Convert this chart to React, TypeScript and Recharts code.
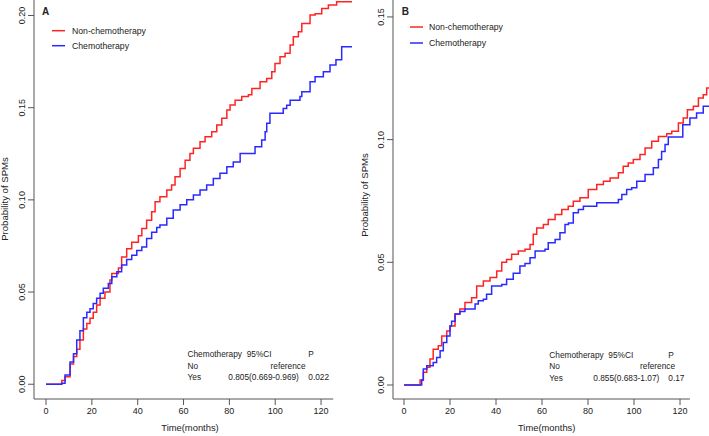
import { LineChart, Line, XAxis, YAxis, ReferenceLine } from 'recharts';

const MONTH_TICKS = [0, 20, 40, 60, 80, 100, 120];
const A_PROB_TICKS = [0, 0.05, 0.1, 0.15, 0.2];
const B_PROB_TICKS = [0, 0.05, 0.1, 0.15];

// Panel A — cumulative incidence
const A_NONCHEMO_TIME = [
  0, 6.9, 8.3, 10.5, 12, 13.4, 14.8, 16.3, 17.8, 19.2, 20.6, 22.1, 23.6, 25.7, 27.9, 28.7,
  31.6, 33, 35.2, 37.4, 40.3, 41.8, 43.9, 46.1, 47.6, 49.7, 52.7, 54.8, 56.3, 58.5, 60.7,
  62.8, 64.3, 67.2, 69.4, 72.3, 74.5, 76.7, 78.9, 80.3, 82.5, 85.4, 88.3, 89.8, 93.4, 96.3,
  98.5, 99.9, 102.1, 104.3, 106.5, 107.9, 110.1, 111.6, 115.2, 117.4, 120.3, 123.2, 126.8,
  133.5,
];
const A_NONCHEMO_PROB = [
  0, 0.002, 0.004, 0.011, 0.015, 0.019, 0.024, 0.03, 0.033, 0.0358, 0.039, 0.043, 0.0466,
  0.05, 0.0566, 0.06, 0.063, 0.069, 0.0735, 0.077, 0.0805, 0.0845, 0.089, 0.0935, 0.099,
  0.1017, 0.1053, 0.108, 0.1125, 0.117, 0.1215, 0.1252, 0.128, 0.1315, 0.1343, 0.137,
  0.1406, 0.1443, 0.1488, 0.1515, 0.154, 0.156, 0.157, 0.1604, 0.164, 0.1658, 0.1695,
  0.174, 0.1776, 0.1795, 0.184, 0.1885, 0.1912, 0.1957, 0.2003, 0.201, 0.2038, 0.2057,
  0.2075, 0.2075,
];
const A_CHEMO_TIME = [
  0, 6.8, 8.3, 10.5, 12, 13.4, 14.8, 16.3, 17.8, 19.2, 20.6, 22.1, 23.6, 25, 27.2, 28.7,
  30.9, 33, 35.2, 37.4, 39.6, 41.8, 43.9, 46.1, 48.3, 49.7, 52.7, 55.5, 58.5, 61.4, 64.3,
  67.2, 70.1, 73, 75.9, 78.9, 81.7, 84.7, 91.2, 94.1, 95.6, 96.3, 97.7, 103.5, 105, 106.5,
  110.8, 111.6, 115.2, 117.4, 121, 123.9, 126.5, 129, 133.5,
];
const A_CHEMO_PROB = [
  0, 0.0005, 0.005, 0.012, 0.0166, 0.024, 0.029, 0.036, 0.039, 0.041, 0.0438, 0.0466,
  0.0493, 0.052, 0.0547, 0.0583, 0.061, 0.0647, 0.0677, 0.07, 0.0725, 0.0745, 0.079,
  0.0825, 0.085, 0.0864, 0.09, 0.0945, 0.0973, 0.1, 0.1027, 0.1054, 0.108, 0.1116, 0.1144,
  0.118, 0.1205, 0.1252, 0.1288, 0.1325, 0.137, 0.1415, 0.147, 0.1495, 0.1513, 0.154,
  0.156, 0.1587, 0.1641, 0.1668, 0.1695, 0.1732, 0.176, 0.183, 0.183,
];

// Panel B
const B_NONCHEMO_TIME = [
  0, 7, 8.4, 9.9, 11.3, 12.7, 14.9, 16.4, 18.6, 20, 22.2, 24.3, 26.5, 29.4, 31.6, 34.5,
  37.4, 40.3, 42.5, 44.6, 46.8, 49.7, 52.6, 54.8, 56.2, 57.7, 60.6, 62.7, 65.7, 68.6, 71.4,
  73.6, 76.5, 80.1, 83.8, 86.7, 89.6, 93.2, 95.3, 97.5, 99.7, 102.6, 104.8, 107.7, 110.6,
  114.2, 116.4, 119.3, 121.4, 123.2, 125.8, 128, 130.1, 131.6, 132.6,
];
const B_NONCHEMO_PROB = [
  0, 0.002, 0.0052, 0.0072, 0.0106, 0.0146, 0.016, 0.02, 0.022, 0.024, 0.0289, 0.031,
  0.0336, 0.0356, 0.0404, 0.0424, 0.0438, 0.0465, 0.05, 0.0512, 0.0533, 0.0546, 0.0553,
  0.0573, 0.0614, 0.064, 0.0654, 0.0675, 0.0695, 0.0715, 0.0729, 0.0749, 0.0763, 0.0797,
  0.0817, 0.083, 0.0844, 0.0865, 0.0891, 0.0905, 0.0919, 0.0939, 0.0966, 0.0993, 0.1013,
  0.1024, 0.1034, 0.1068, 0.1088, 0.1122, 0.1136, 0.117, 0.1183, 0.121, 0.121,
];
const B_CHEMO_TIME = [
  0, 7.7, 8.4, 9.9, 12.7, 14.2, 15.7, 17.1, 18.6, 20, 20.7, 22.2, 24.3, 26.5, 30.9, 32.3,
  34.5, 35.9, 38.1, 42.5, 44.6, 47.5, 50.4, 52.6, 54.8, 57, 61.3, 62.7, 65.7, 67.8, 70,
  71.5, 73.6, 75.8, 78, 83.8, 93.2, 94.7, 96.8, 99, 101.2, 104.8, 108.4, 110.6, 112, 113.5,
  114.9, 121.2, 124.3, 127.2, 130.1, 132.6,
];
const B_CHEMO_PROB = [
  0, 0.002, 0.0065, 0.0078, 0.0092, 0.0112, 0.014, 0.0173, 0.02, 0.024, 0.026, 0.0289,
  0.03, 0.031, 0.033, 0.0343, 0.035, 0.037, 0.0404, 0.041, 0.0431, 0.0455, 0.0485, 0.0495,
  0.0519, 0.0546, 0.0553, 0.058, 0.0593, 0.062, 0.0654, 0.066, 0.0702, 0.0715, 0.0729,
  0.0743, 0.0756, 0.0776, 0.0797, 0.0804, 0.083, 0.0858, 0.0885, 0.0919, 0.0952, 0.098,
  0.1011, 0.1061, 0.1088, 0.1108, 0.1136, 0.1136,
];

const zip = (t: number[], p: number[]) => t.map((x, i) => ({ t: x, p: p[i] }));

const RED = '#ff2424';
const BLUE = '#2a2aff';
const AXIS = '#555';
const INK = '#222';
const FONT = '"Liberation Sans", Arial, sans-serif';

function ProbTick({ x, y, payload }: any) {
  const bx = x - 1;
  return (
    <text
      x={bx}
      y={y}
      transform={`rotate(-90, ${bx}, ${y})`}
      textAnchor="middle"
      fontSize={9}
      fill={INK}
      fontFamily={FONT}
    >
      {Number(payload.value).toFixed(2)}
    </text>
  );
}

type PanelProps = {
  left: number;
  width: number;
  axisWidth: number;
  rightPad: number;
  xDomain: [number, number];
  xAxisEnd: number;
  yDomain: [number, number];
  yTicks: number[];
  nonChemo: { t: number; p: number }[];
  chemo: { t: number; p: number }[];
};

function Panel(props: PanelProps) {
  const { left, width, axisWidth, rightPad, xDomain, xAxisEnd, yDomain, yTicks } = props;
  return (
    <div style={{ position: 'absolute', left, top: 0 }}>
      <LineChart width={width} height={436} margin={{ top: 0, right: rightPad, bottom: 0, left: 0 }}>
        <XAxis
          type="number"
          dataKey="t"
          domain={xDomain}
          ticks={MONTH_TICKS}
          allowDataOverflow
          axisLine={false}
          tickLine={{ stroke: AXIS }}
          tickSize={6}
          tickMargin={3}
          height={37}
          tick={{ fontSize: 9, fill: INK, fontFamily: FONT }}
        />
        <YAxis
          type="number"
          domain={yDomain}
          ticks={yTicks}
          allowDataOverflow
          width={axisWidth}
          axisLine={{ stroke: AXIS }}
          tickLine={{ stroke: AXIS }}
          tickSize={6}
          tickMargin={2}
          tick={<ProbTick />}
        />
        <ReferenceLine
          segment={[
            { x: xDomain[0], y: yDomain[0] },
            { x: xAxisEnd, y: yDomain[0] },
          ]}
          stroke={AXIS}
          ifOverflow="visible"
        />
        <Line
          data={props.nonChemo}
          dataKey="p"
          type="stepAfter"
          stroke={RED}
          strokeWidth={1.5}
          dot={false}
          isAnimationActive={false}
        />
        <Line
          data={props.chemo}
          dataKey="p"
          type="stepAfter"
          stroke={BLUE}
          strokeWidth={1.5}
          dot={false}
          isAnimationActive={false}
        />
      </LineChart>
    </div>
  );
}

function Annotations() {
  const t = { fontFamily: FONT, fill: INK };
  return (
    <svg
      width={709}
      height={436}
      style={{ position: 'absolute', left: 0, top: 0, pointerEvents: 'none' }}
    >
      {/* panel A */}
      <text x={42} y={15} fontSize={10} fontWeight="bold" {...t}>A</text>
      <line x1={52} x2={65} y1={30.7} y2={30.7} stroke={RED} strokeWidth={1.5} />
      <text x={72} y={33.5} fontSize={8.7} {...t}>Non-chemotherapy</text>
      <line x1={52} x2={65} y1={45.7} y2={45.7} stroke={BLUE} strokeWidth={1.5} />
      <text x={72} y={48.5} fontSize={8.7} {...t}>Chemotherapy</text>
      <text x={8} y={199} fontSize={9.6} textAnchor="middle" transform="rotate(-90, 8, 199)" {...t}>
        Probability of SPMs
      </text>
      <text x={190} y={431} fontSize={9.4} textAnchor="middle" {...t}>Time(months)</text>
      <g fontSize={8.3} {...t}>
        <text x={187.5} y={357.3}>Chemotherapy</text>
        <text x={246.7} y={357.3}>95%CI</text>
        <text x={308.3} y={357.3}>P</text>
        <text x={187.5} y={368.5}>No</text>
        <text x={270.5} y={368.5}>reference</text>
        <text x={187.5} y={380}>Yes</text>
        <text x={228.3} y={380}>0.805(0.669-0.969)</text>
        <text x={308.3} y={380}>0.022</text>
      </g>

      {/* panel B */}
      <text x={401.7} y={15} fontSize={10} fontWeight="bold" {...t}>B</text>
      <line x1={410} x2={423} y1={27} y2={27} stroke={RED} strokeWidth={1.5} />
      <text x={429} y={30} fontSize={8.7} {...t}>Non-chemotherapy</text>
      <line x1={410} x2={423} y1={43} y2={43} stroke={BLUE} strokeWidth={1.5} />
      <text x={429} y={46} fontSize={8.7} {...t}>Chemotherapy</text>
      <text x={367.5} y={195} fontSize={9.6} textAnchor="middle" transform="rotate(-90, 367.5, 195)" {...t}>
        Probability of SPMs
      </text>
      <text x={546.7} y={431} fontSize={9.4} textAnchor="middle" {...t}>Time(months)</text>
      <g fontSize={8.3} {...t}>
        <text x={549.3} y={357.5}>Chemotherapy</text>
        <text x={608.3} y={357.5}>95%CI</text>
        <text x={668.3} y={357.5}>P</text>
        <text x={549.3} y={369}>No</text>
        <text x={640} y={369}>reference</text>
        <text x={549.3} y={380.7}>Yes</text>
        <text x={593.3} y={380.7}>0.855(0.683-1.07)</text>
        <text x={668.3} y={380.7}>0.17</text>
      </g>
    </svg>
  );
}

export default function App() {
  return (
    <div
      style={{
        position: 'absolute',
        left: 0,
        top: 0,
        width: 709,
        height: 436,
        background: '#fff',
        overflow: 'hidden',
      }}
    >
      <Panel
        left={0}
        width={355}
        axisWidth={34}
        rightPad={3}
        xDomain={[-5.24, 133.5]}
        xAxisEnd={125.3}
        yDomain={[-0.008, 0.2084]}
        yTicks={A_PROB_TICKS}
        nonChemo={zip(A_NONCHEMO_TIME, A_NONCHEMO_PROB)}
        chemo={zip(A_CHEMO_TIME, A_CHEMO_PROB)}
      />
      <Panel
        left={355}
        width={354}
        axisWidth={38}
        rightPad={0}
        xDomain={[-4.78, 132.6]}
        xAxisEnd={124.3}
        yDomain={[-0.0057, 0.1569]}
        yTicks={B_PROB_TICKS}
        nonChemo={zip(B_NONCHEMO_TIME, B_NONCHEMO_PROB)}
        chemo={zip(B_CHEMO_TIME, B_CHEMO_PROB)}
      />
      <Annotations />
    </div>
  );
}
